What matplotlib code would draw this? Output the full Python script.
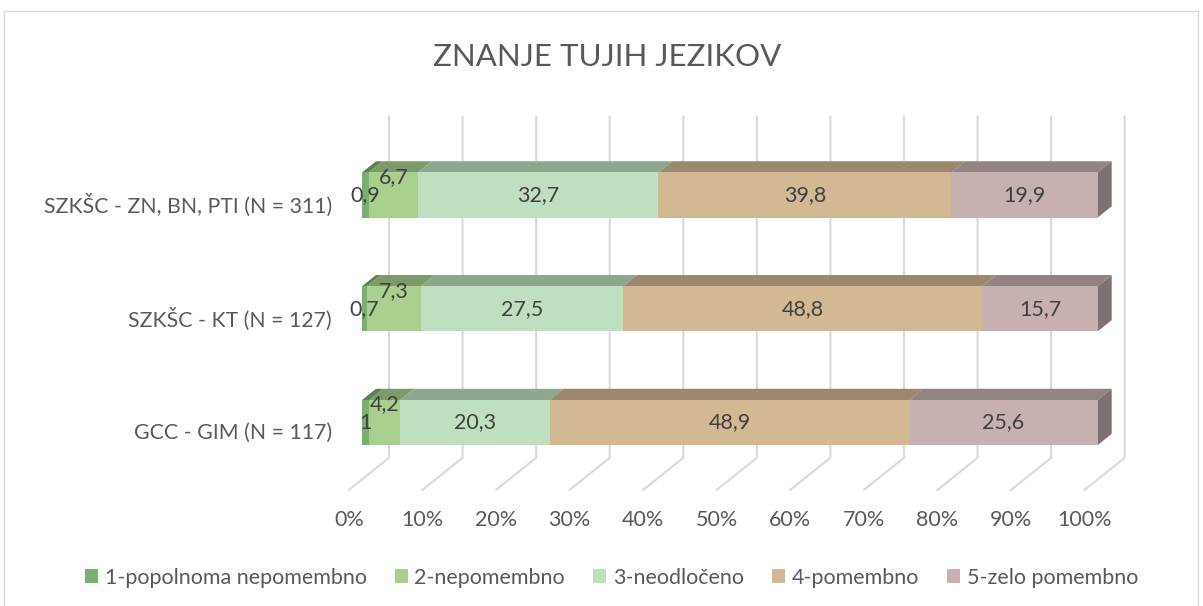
import numpy as np
import matplotlib
matplotlib.use('Agg')
import matplotlib.pyplot as plt
import matplotlib.colors as mcolors
from matplotlib.patches import Polygon, Rectangle
from matplotlib.lines import Line2D
from matplotlib.transforms import IdentityTransform, ScaledTranslation

# ---------------- data ----------------
categories = ['GCC - GIM (N = 117)', 'SZKŠC - KT (N = 127)', 'SZKŠC - ZN, BN, PTI (N = 311)']
series_names = ['1-popolnoma nepomembno', '2-nepomembno', '3-neodločeno', '4-pomembno', '5-zelo pomembno']
s1 = [1.0, 0.7, 0.9]
s2 = [4.2, 7.3, 6.7]
s3 = [20.3, 27.5, 32.7]
s4 = [48.9, 48.8, 39.8]
s5 = [25.6, 15.7, 19.9]
series = [s1, s2, s3, s4, s5]
colors = ['#79B06F', '#A9D08E', '#BEE0C0', '#D3B894', '#C6B1B0']
xticks = list(range(0, 101, 10))
xtick_labels = [f'{t}%' for t in xticks]
title = 'ZNANJE TUJIH JEZIKOV'

# ---------------- style ----------------
plt.rcParams['font.family'] = ['Lato', 'DejaVu Sans']
W, H = 1203, 606
DPI = 100
fig = plt.figure(figsize=(W / DPI, H / DPI), dpi=DPI)
fig.patch.set_facecolor('white')

# axes = front plane of the bars
ax = fig.add_axes([362 / W, 1 - 479.4 / H, 735.7 / W, (479.4 - 138.1) / H])
ax.set_xlim(0, 100)
ax.set_ylim(-0.5, 2.5)
ax.axis('off')

DEPTH = np.array([40.0, 32.0])  # full floor depth in px (display, y up)
F_BAR0, F_BAR1 = 0.325, 0.675   # bar front / back depth fractions
BAR_H = 0.396
TXT = '#595959'
LBL = '#404040'
FS = 15.5


def P(x, y, f):
    d = ax.transData.transform((x, y))
    return d + (f - F_BAR0) * DEPTH * fig.dpi / 100.0


def darker(c, k):
    r, g, b = mcolors.to_rgb(c)
    return (r * k, g * k, b * k)


# gridlines on back wall + floor
for t in xticks:
    pts = np.array([P(t, 2.5, 1.0), P(t, -0.5, 1.0), P(t, -0.5, 0.0)])
    ax.add_line(Line2D(pts[:, 0], pts[:, 1], transform=IdentityTransform(),
                       color='#D9D9D9', lw=1.5, clip_on=False, zorder=1))

# bars
ypos = np.arange(len(categories))
left = np.zeros(len(categories))
label_up = ScaledTranslation(0, 18 / 100, fig.dpi_scale_trans)
for si, (vals, col) in enumerate(zip(series, colors)):
    vals = np.array(vals)
    ax.barh(ypos, vals, left=left, height=BAR_H, color=col, zorder=3,
            label=series_names[si], linewidth=0)
    for ci in range(len(categories)):
        l, r = left[ci], left[ci] + vals[ci]
        top = ypos[ci] + BAR_H / 2
        bot = ypos[ci] - BAR_H / 2
        tp = [P(l, top, F_BAR0), P(r, top, F_BAR0), P(r, top, F_BAR1), P(l, top, F_BAR1)]
        ax.add_patch(Polygon(tp, closed=True, transform=IdentityTransform(),
                             facecolor=darker(col, 0.74), edgecolor='none',
                             clip_on=False, zorder=2.5))
        if si == len(series) - 1:
            sp = [P(r, top, F_BAR0), P(r, top, F_BAR1), P(r, bot, F_BAR1), P(r, bot, F_BAR0)]
            ax.add_patch(Polygon(sp, closed=True, transform=IdentityTransform(),
                                 facecolor=darker(col, 0.64), edgecolor='none',
                                 clip_on=False, zorder=2.5))
        txt = f'{vals[ci]:g}'.replace('.', ',')
        tr = ax.transData + label_up if si == 1 else ax.transData
        ax.text(l + vals[ci] / 2, ypos[ci], txt, transform=tr, ha='center', va='center',
                fontsize=FS, color=LBL, zorder=5, clip_on=False)
    left = left + vals

# x tick labels at floor front
for t, lab in zip(xticks, xtick_labels):
    x, y = P(t, -0.5, 0.0)
    ax.text(x, y - 30, lab, transform=IdentityTransform(), ha='center', va='center',
            fontsize=FS, color=TXT, clip_on=False)

# category labels
for ci, cat in enumerate(categories):
    x, y = P(0, ypos[ci], 0.0)
    ax.text(x - 17, y, cat, transform=IdentityTransform(), ha='right', va='center',
            fontsize=15.3, color=TXT, clip_on=False)

# title
fig.text(607 / W, 1 - 57 / H, title, ha='center', va='center', fontsize=22.5,
         color=TXT)

# legend
handles = [Rectangle((0, 0), 1, 1, facecolor=c, edgecolor='none') for c in colors]
fig.legend(handles, series_names, loc='center', ncol=5, frameon=False,
           bbox_to_anchor=(611.5 / W, 1 - 578 / H), fontsize=FS,
           handlelength=0.62, handleheight=0.62, handletextpad=0.3,
           columnspacing=1.3, labelcolor=TXT)

# outer chart border
fig.patches.append(Rectangle((4 / W, -0.05), (1198 - 4) / W, (H - 11) / H + 0.05,
                             transform=fig.transFigure, fill=False,
                             edgecolor='#D9D9D9', lw=1.0))

fig.savefig('out.png', dpi=DPI, facecolor='white')
